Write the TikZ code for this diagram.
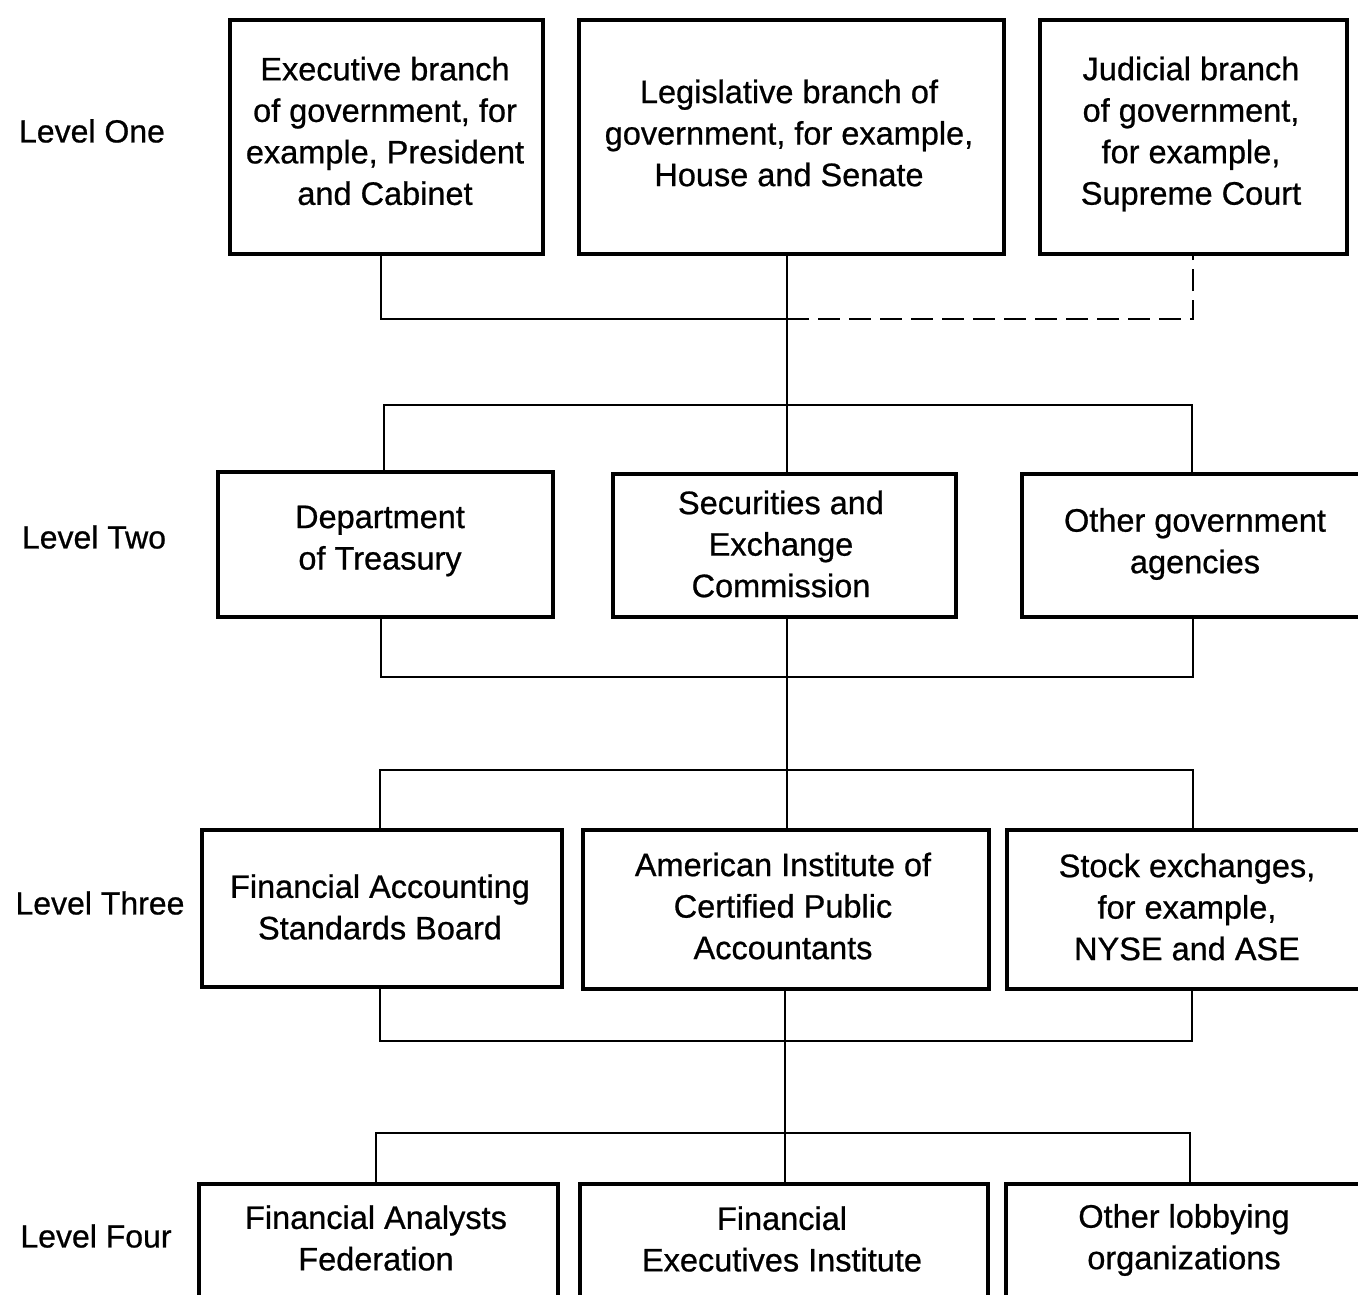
\documentclass[tikz,border=0pt]{standalone}
\usepackage{fontspec}
\setmainfont{Liberation Sans}[FakeBold=0.7]
\begin{document}
\begin{tikzpicture}[x=1pt,y=-1pt,
  box/.style={draw,line width=4pt,align=center,inner sep=0pt,anchor=north west},
  txt/.style={align=center,inner sep=0pt,font=\fontsize{32.5}{41.5}\selectfont},
  lvl/.style={font=\fontsize{32}{41}\selectfont,inner sep=0pt},
  con/.style={line width=2.8pt},
  dcon/.style={line width=2.8pt,dash pattern=on 22pt off 9pt}]
\clip (0,0) rectangle (1358,1295);
\fill[white] (0,0) rectangle (1358,1295);
% Level labels
\node[lvl] (l1) at (92,131) {Level One};
\node[lvl] (l2) at (94,537) {Level Two};
\node[lvl] (l3) at (100,903) {Level Three};
\node[lvl] (l4) at (96,1236) {Level Four};
% Level one
\node[box,minimum width=313pt,minimum height=234pt] (exe) at (228,18) {};
\node[txt] (exet) at (385,131) {Executive branch\\of government, for\\example, President\\and Cabinet};
\node[box,minimum width=425pt,minimum height=234pt] (leg) at (577,18) {};
\node[txt] (legt) at (789,133) {Legislative branch of\\government, for example,\\House and Senate};
\node[box,minimum width=307pt,minimum height=234pt] (jud) at (1038,18) {};
\node[txt] (judt) at (1191,134) {Judicial branch\\of government,\\for example,\\Supreme Court};
% Level two
\node[box,minimum width=335pt,minimum height=145pt] (tre) at (216,470) {};
\node[txt] (tret) at (380,541) {Department\\of Treasury};
\node[box,minimum width=343pt,minimum height=143pt] (sec) at (611,472) {};
\node[txt] (sect) at (781,544) {Securities and\\Exchange\\Commission};
\node[box,minimum width=350pt,minimum height=143pt] (oga) at (1020,472) {};
\node[txt] (ogat) at (1195,544) {Other government\\agencies};
% Level three
\node[box,minimum width=360pt,minimum height=157pt] (fasb) at (200,828) {};
\node[txt] (fasbt) at (380,907) {Financial Accounting\\Standards Board};
\node[box,minimum width=406pt,minimum height=159pt] (aicpa) at (581,828) {};
\node[txt] (aicpat) at (783,906) {American Institute of\\Certified Public\\Accountants};
\node[box,minimum width=360pt,minimum height=159pt] (stock) at (1005,828) {};
\node[txt] (stockt) at (1187,907) {Stock exchanges,\\for example,\\NYSE and ASE};
% Level four
\node[box,minimum width=359pt,minimum height=140pt] (faf) at (197,1182) {};
\node[txt] (faft) at (376,1238) {Financial Analysts\\Federation};
\node[box,minimum width=408pt,minimum height=140pt] (fei) at (578,1182) {};
\node[txt] (feit) at (782,1239) {Financial\\Executives Institute};
\node[box,minimum width=370pt,minimum height=140pt] (olo) at (1004,1182) {};
\node[txt] (olot) at (1184,1240) {Other lobbying\\organizations};
% coordinates
\coordinate (j1) at (787,319);
\coordinate (b2) at (787,405);
\coordinate (j2) at (787,677);
\coordinate (b3) at (787,770);
\coordinate (j3) at (785,1041);
\coordinate (b4) at (785,1133);
% Level one connectors
\draw[con] (exe.south -| 381,0) |- (j1);
\draw[con] (leg.south -| j1) -- (b2);
\draw[dcon] (j1) -| (jud.south -| 1193,0);
% Level two bracket
\draw[con] (tre.north -| 384,0) |- (b2) -| (oga.north -| 1192,0);
\draw[con] (b2) -- (sec.north -| b2);
\draw[con] (tre.south -| 381,0) |- (j2) -| (oga.south -| 1193,0);
\draw[con] (sec.south -| j2) -- (b3);
% Level three bracket
\draw[con] (fasb.north -| 380,0) |- (b3) -| (stock.north -| 1193,0);
\draw[con] (b3) -- (aicpa.north -| b3);
\draw[con] (fasb.south -| 380,0) |- (j3) -| (stock.south -| 1192,0);
\draw[con] (aicpa.south -| j3) -- (b4);
% Level four bracket
\draw[con] (faf.north -| 376,0) |- (b4) -| (olo.north -| 1190,0);
\draw[con] (b4) -- (fei.north -| b4);
\end{tikzpicture}
\end{document}
